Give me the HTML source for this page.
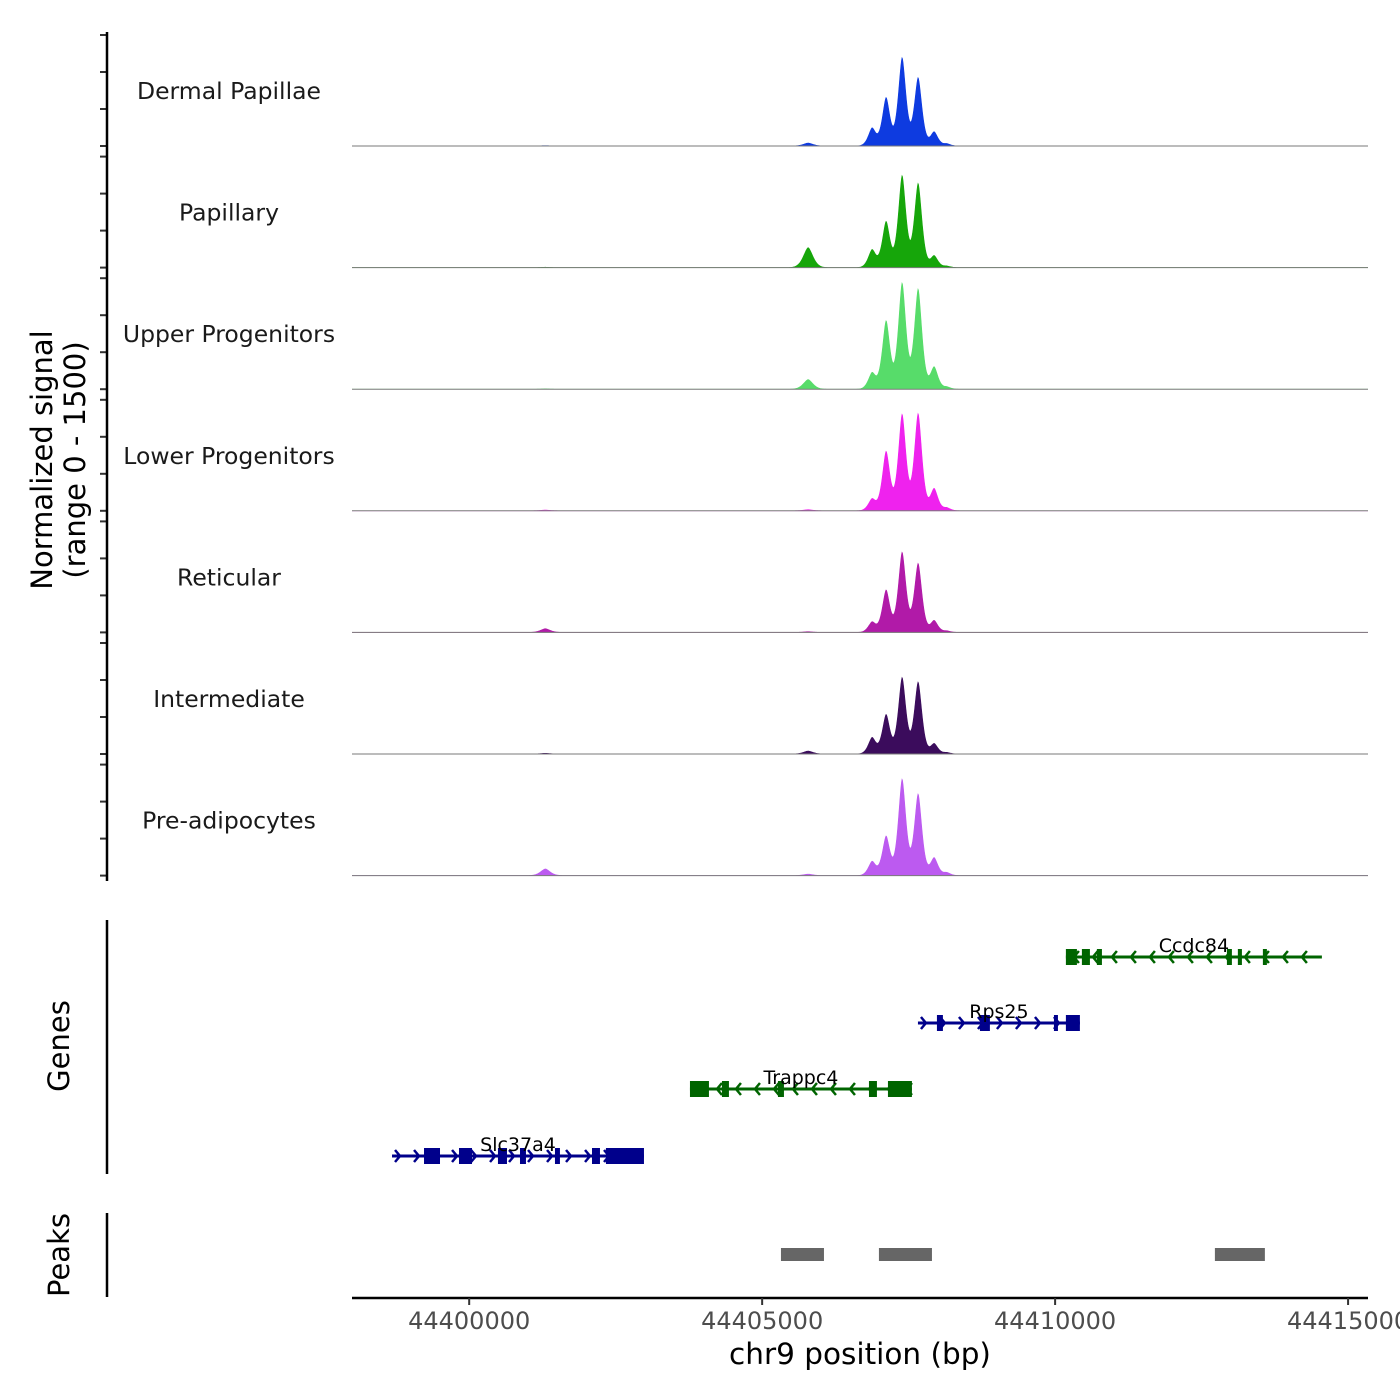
<!DOCTYPE html>
<html><head><meta charset="utf-8"><style>
html,body{margin:0;padding:0;background:#fff}
svg{display:block;font-family:"DejaVu Sans","Liberation Sans",sans-serif}
</style></head><body>
<svg id="chart" width="1400" height="1400" viewBox="0 0 1400 1400">
<g id="tracks"></g>
<g id="genes"></g>
<g id="peaks"></g>
<g id="axes"></g>
</svg>
<script>
// Region and scale
const regionStart = 44398000;
const regionEnd = 44415340;
const xTicks = [44400000, 44405000, 44410000, 44415000];
const yMax = 1500;
const yTicks = [0, 500, 1000, 1500];

// Coverage data
const trackNames = ["Dermal Papillae","Papillary","Upper Progenitors","Lower Progenitors","Reticular","Intermediate","Pre-adipocytes"];
const trackColors = ["#0e3be0","#16a60a","#57dc6a","#ef22ee","#b11aa8","#3b0c5c","#bc5af0"];
const peakPositions = [44405785, 44406877, 44407116, 44407389, 44407662, 44407935, 44408150, 44401300];
const valsDermal   = [40, 240, 650, 1190, 920, 190, 30, 5];
const valsPapillary= [270, 240, 620, 1240, 1135, 160, 20, 5];
const valsUpper    = [130, 220, 920, 1430, 1350, 300, 30, 5];
const valsLower    = [15, 160, 800, 1300, 1310, 300, 40, 10];
const valsReticular= [10, 140, 570, 1080, 930, 160, 20, 50];
const valsInterm   = [40, 220, 530, 1030, 970, 140, 20, 10];
const valsPreadip  = [20, 190, 530, 1300, 1100, 240, 40, 90];
const trackValues = [valsDermal, valsPapillary, valsUpper, valsLower, valsReticular, valsInterm, valsPreadip];

// Genes
const geneNames = ["Ccdc84","Rps25","Trappc4","Slc37a4"];
const geneStrand = [-1, 1, -1, 1];
const geneStart = [44410184, 44407659, 44403768, 44398683];
const geneEnd = [44414553, 44410423, 44407556, 44402983];
const geneExons = [
  [[44410184,44410372],[44410457,44410594],[44410713,44410799],[44412932,44413017],[44413119,44413188],[44413546,44413614]],
  [[44407983,44408085],[44408717,44408887],[44409980,44410048],[44410184,44410423]],
  [[44403768,44404092],[44404314,44404433],[44405270,44405372],[44406823,44406959],[44407147,44407556]],
  [[44399229,44399502],[44399826,44400048],[44400491,44400645],[44400867,44400969],[44401464,44401549],[44402096,44402232],[44402334,44402983]]
];
const geneColors = ["#006400","#00008b","#006400","#00008b"];

// Peaks
const peakStarts = [44405321, 44406993, 44412727];
const peakEnds = [44406055, 44407898, 44413580];

const NS="http://www.w3.org/2000/svg";
const L=352, R=1368;
function xs(bp){return L+(bp-regionStart)/(regionEnd-regionStart)*(R-L);}
const panelH=121.6, firstBase=146, yPx=111;
function mk(tag,attrs,parent){const e=document.createElementNS(NS,tag);for(const k in attrs)e.setAttribute(k,attrs[k]);parent.appendChild(e);return e;}

const tracks=document.getElementById('tracks');
trackNames.forEach((name,i)=>{
  const base=firstBase+i*panelH;
  const g=mk('g',{},tracks);
  
  
  const vals=trackValues[i];
  let pts=[[L,base]];
  for(let px=L;px<=R;px+=0.5){
    const bp=regionStart+(px-L)/(R-L)*(regionEnd-regionStart);
    let v=0;
    peakPositions.forEach((p,j)=>{const s=(j==0||j==7)?75:60;const d=Math.abs(bp-p)/s;v+=vals[j]*Math.exp(-0.5*Math.pow(d,1.6));});
    pts.push([px, base - v/yMax*yPx]);
  }
  pts.push([R,base]);
  const area=mk('polygon',{points:pts.map(p=>p[0].toFixed(1)+','+p[1].toFixed(2)).join(' '),fill:trackColors[i],stroke:trackColors[i],'stroke-width':0.6},g);
  
  
  const bl=mk('line',{x1:L,x2:R,y1:base,y2:base,stroke:'#7a7a7a','stroke-width':1},g);
  
  
  const t=mk('text',{x:229,y:base-47,'font-size':23.5,'text-anchor':'middle',fill:'#1a1a1a'},g);
  t.textContent=name;
  
  
  yTicks.forEach(v=>{
    const tk=mk('line',{x1:100,x2:107,y1:base-v/yMax*yPx,y2:base-v/yMax*yPx,stroke:'#333','stroke-width':2},g);
    
    
  });
});

const axes=document.getElementById('axes');
mk('line',{x1:107,x2:107,y1:32,y2:881,stroke:'#000','stroke-width':2.5},axes);
const yl=mk('text',{transform:'translate(52,460) rotate(-90)','font-size':29,'text-anchor':'middle',fill:'#000'},axes);
yl.textContent='Normalized signal';


const yl2=mk('text',{transform:'translate(85,460) rotate(-90)','font-size':29,'text-anchor':'middle',fill:'#000'},axes);
yl2.textContent='(range 0 - 1500)';



// genes
const genes=document.getElementById('genes');
mk('line',{x1:107,x2:107,y1:920,y2:1174,stroke:'#000','stroke-width':2.5},genes);
const gl=mk('text',{transform:'translate(69,1046) rotate(-90)','font-size':29,'text-anchor':'middle'},genes);
gl.textContent='Genes';


const geneY=[957,1023,1089,1156];
geneNames.forEach((n,i)=>{
  const g=mk('g',{},genes);
  
  
  const y=geneY[i], c=geneColors[i], x1=xs(geneStart[i]), x2=xs(geneEnd[i]);
  mk('line',{x1:x1,x2:x2,y1:y,y2:y,stroke:c,'stroke-width':3},g);
  for(let x=x1+8;x<x2-4;x+=19){
    const d=geneStrand[i]*5;
    mk('polyline',{points:`${x-d},${y-6} ${x},${y} ${x-d},${y+6}`,fill:'none',stroke:c,'stroke-width':2.5},g);
  }
  geneExons[i].forEach(e=>{mk('rect',{x:xs(e[0]),y:y-8,width:Math.max(4,xs(e[1])-xs(e[0])),height:16,fill:c},g);});
  const t=mk('text',{x:(x1+x2)/2,y:y-5,'font-size':19,'text-anchor':'middle',fill:'#000'},g);
  t.textContent=n;
});

// peaks
const peaks=document.getElementById('peaks');
mk('line',{x1:107,x2:107,y1:1213,y2:1297,stroke:'#000','stroke-width':2.5},peaks);
const pl=mk('text',{transform:'translate(69,1255) rotate(-90)','font-size':29,'text-anchor':'middle'},peaks);
pl.textContent='Peaks';


peakStarts.forEach((s,i)=>{
  const r=mk('rect',{x:xs(s),y:1248,width:xs(peakEnds[i])-xs(s),height:13,fill:'#666'},peaks);
  
  
});

// x axis
mk('line',{x1:L,x2:R,y1:1298,y2:1298,stroke:'#000','stroke-width':2.5},axes);
xTicks.forEach(v=>{
  const x=xs(v);
  const tk=mk('line',{x1:x,x2:x,y1:1298,y2:1305,stroke:'#333','stroke-width':2},axes);
  
  
  const t=mk('text',{x:x,y:1329,'font-size':24,'text-anchor':'middle',fill:'#4d4d4d'},axes);
  t.textContent=String(v);
  
  
});
const xt=mk('text',{x:860,y:1364,'font-size':29.5,'text-anchor':'middle',fill:'#000'},axes);
xt.textContent='chr9 position (bp)';


</script>
</body></html>
